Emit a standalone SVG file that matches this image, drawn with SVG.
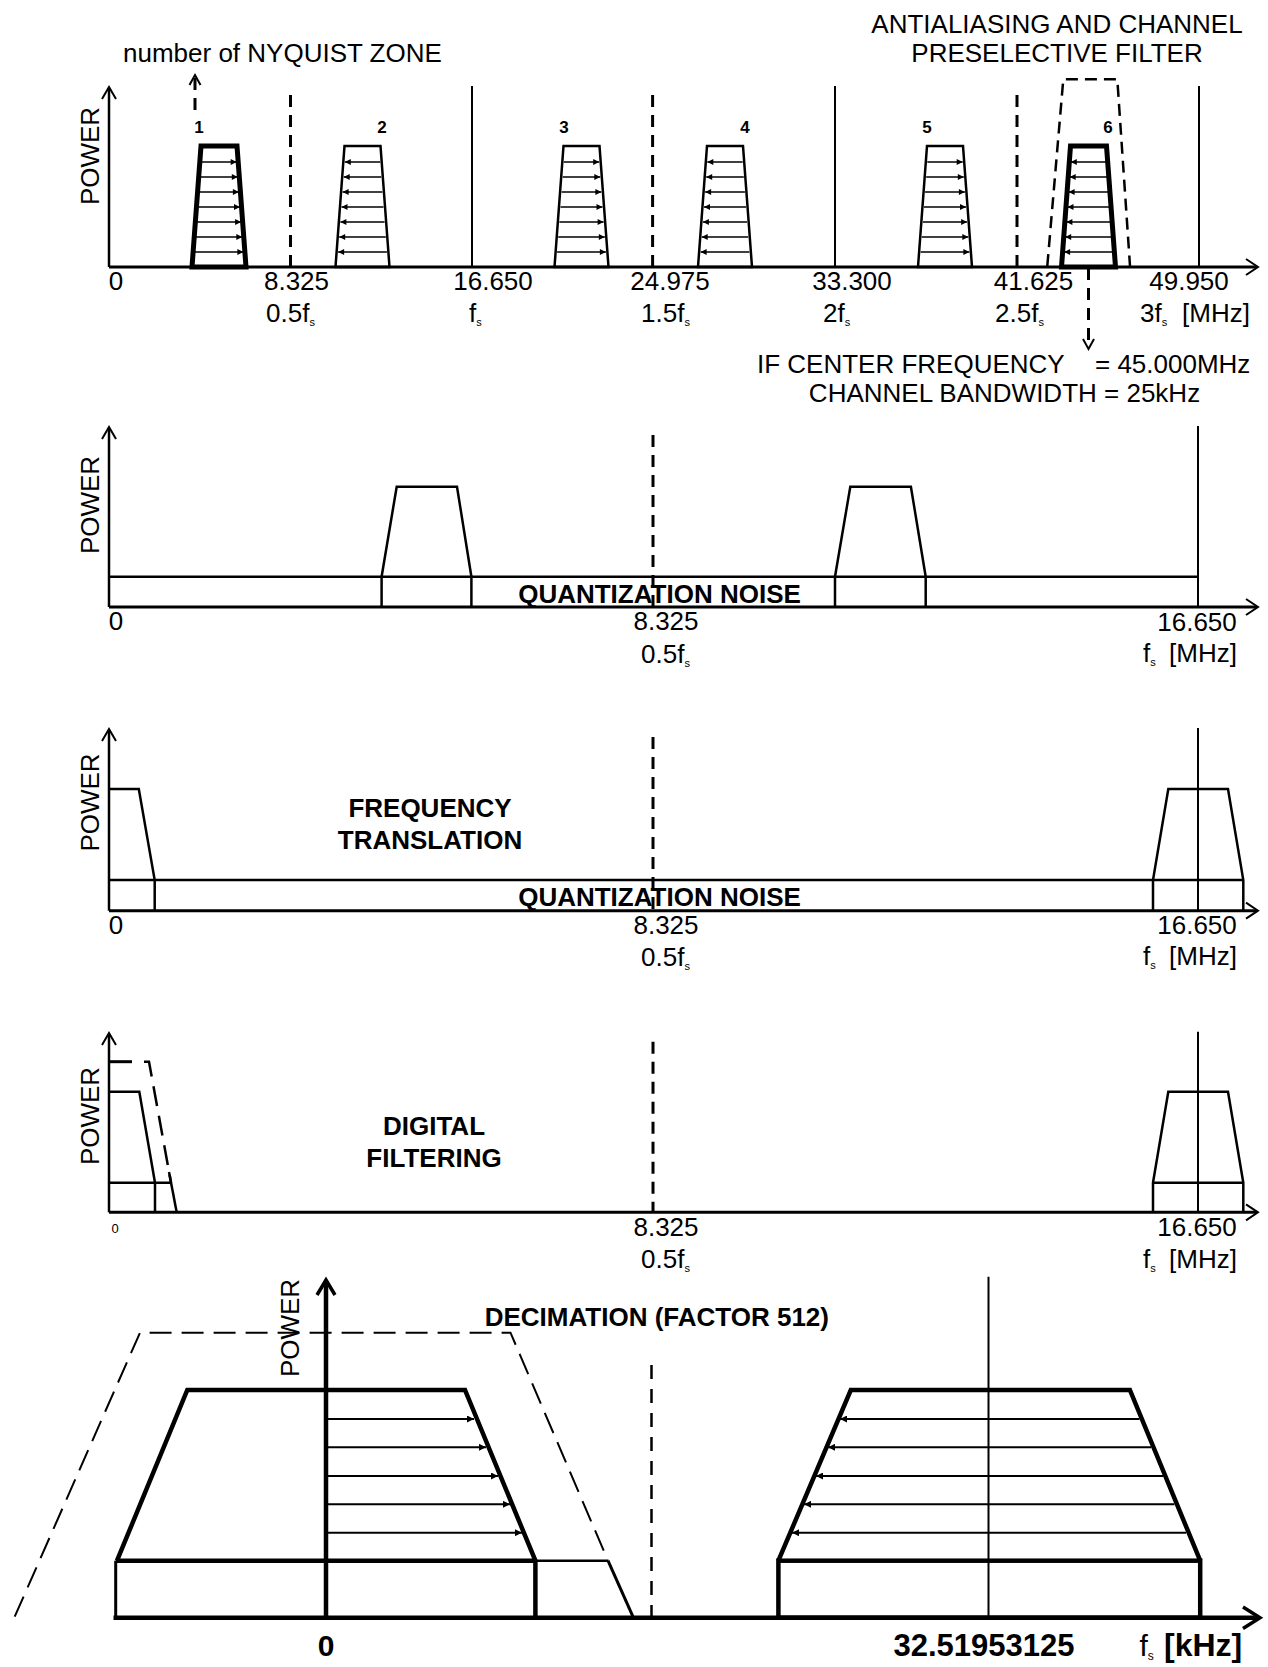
<svg xmlns="http://www.w3.org/2000/svg" xmlns:xlink="http://www.w3.org/1999/xlink" width="1268" height="1667" viewBox="0 0 1268 1667">
<style>
.ln{stroke:#000;fill:none;stroke-width:2.5;stroke-linejoin:miter}
.th{stroke-width:2}
.tk{stroke-width:5}
.x5{stroke-width:4.5}
.ds{stroke-dasharray:12 8;stroke-width:3}
.ds2{stroke-dasharray:22 10;stroke-width:2}
.ar{stroke:#000;stroke-width:1.3;fill:none;marker-end:url(#ah)}
.ar2{stroke:#000;stroke-width:2;fill:none;marker-end:url(#ah2)}
text{font-family:"Liberation Sans",Arial,sans-serif;font-size:26px;fill:#000}
.b{font-weight:bold}
.m{text-anchor:middle}
.sub{font-size:11px}
.zn{font-weight:bold;text-anchor:middle;font-size:17px}
</style>
<defs>
<marker id="ah" viewBox="0 0 10 10" refX="10" refY="5" markerWidth="7" markerHeight="6" markerUnits="userSpaceOnUse" orient="auto"><path d="M0,0 L10,5 L0,10 z" fill="#000"/></marker>
<marker id="ah2" viewBox="0 0 10 10" refX="10" refY="5" markerWidth="8" markerHeight="7" markerUnits="userSpaceOnUse" orient="auto"><path d="M0,0 L10,5 L0,10 z" fill="#000"/></marker>
<g id="arrR">
<line class="ar" x1="-17.7" y1="162" x2="17.7" y2="162"/>
<line class="ar" x1="-18.8" y1="177" x2="18.8" y2="177"/>
<line class="ar" x1="-19.9" y1="192" x2="19.9" y2="192"/>
<line class="ar" x1="-21" y1="207" x2="21" y2="207"/>
<line class="ar" x1="-22.1" y1="222" x2="22.1" y2="222"/>
<line class="ar" x1="-23.3" y1="237" x2="23.3" y2="237"/>
<line class="ar" x1="-24.4" y1="252" x2="24.4" y2="252"/>
</g>
<polygon id="trap" points="-27,267 -18,146 18,146 27,267"/>
</defs>
<rect width="1268" height="1667" fill="#fff"/>

<g id="panel1">
<text transform="translate(99,156) rotate(-90)" class="m">POWER</text>
<text x="123" y="62">number of NYQUIST ZONE</text>
<text x="1057" y="33" class="m">ANTIALIASING AND CHANNEL</text>
<text x="1057" y="62" class="m">PRESELECTIVE FILTER</text>
<line class="ln" x1="109" y1="267" x2="109" y2="88"/>
<polyline class="ln th" points="102,99 109,87 116,99"/>
<line class="ln" x1="109" y1="267" x2="1257" y2="267" style="stroke-width:3"/>
<polyline class="ln th" points="1246,259 1258,267 1246,275"/>
<line class="ln ds" x1="290.5" y1="95" x2="290.5" y2="267"/>
<line class="ln ds" x1="652.6" y1="95" x2="652.6" y2="267"/>
<line class="ln ds" x1="1017" y1="95" x2="1017" y2="267"/>
<line class="ln th" x1="472" y1="86" x2="472" y2="267"/>
<line class="ln th" x1="835" y1="86" x2="835" y2="267"/>
<line class="ln th" x1="1199" y1="86" x2="1199" y2="267"/>
<g id="zone1"><use xlink:href="#trap" class="ln tk" transform="translate(219,0)"/><use xlink:href="#arrR" transform="translate(219,0)"/><text x="199" y="133" class="zn">1</text></g>
<g id="zone2"><use xlink:href="#trap" class="ln" transform="translate(362.5,0)"/><use xlink:href="#arrR" transform="translate(362.5,0) scale(-1,1)"/><text x="382" y="133" class="zn">2</text></g>
<g id="zone3"><use xlink:href="#trap" class="ln" transform="translate(581.5,0)"/><use xlink:href="#arrR" transform="translate(581.5,0)"/><text x="564" y="133" class="zn">3</text></g>
<g id="zone4"><use xlink:href="#trap" class="ln" transform="translate(725,0)"/><use xlink:href="#arrR" transform="translate(725,0) scale(-1,1)"/><text x="745" y="133" class="zn">4</text></g>
<g id="zone5"><use xlink:href="#trap" class="ln" transform="translate(945,0)"/><use xlink:href="#arrR" transform="translate(945,0)"/><text x="927" y="133" class="zn">5</text></g>
<g id="zone6"><use xlink:href="#trap" class="ln tk" transform="translate(1088.5,0)"/><use xlink:href="#arrR" transform="translate(1088.5,0) scale(-1,1)"/><text x="1108" y="133" class="zn">6</text></g>
<polyline class="ln" points="1047.3,266 1063.3,79.3 1117.3,79.3 1130,266" style="stroke-dasharray:12 7;stroke-width:2.5"/>
<line class="ln ds" x1="195" y1="110" x2="195" y2="76"/>
<polyline class="ln th" points="189.5,85 195,75 200.5,85"/>
<line class="ln ds" x1="1088.5" y1="268" x2="1088.5" y2="348"/>
<polyline class="ln th" points="1083,339 1088.5,349 1094,339"/>
<text x="116" y="290" class="m">0</text>
<text x="296.5" y="290" class="m">8.325</text>
<text x="493" y="290" class="m">16.650</text>
<text x="670" y="290" class="m">24.975</text>
<text x="852" y="290" class="m">33.300</text>
<text x="1033.5" y="290" class="m">41.625</text>
<text x="1189" y="290" class="m">49.950</text>
<text x="266" y="322">0.5f<tspan class="sub" dy="4">s</tspan></text>
<text x="469" y="322">f<tspan class="sub" dy="4">s</tspan></text>
<text x="641" y="322">1.5f<tspan class="sub" dy="4">s</tspan></text>
<text x="823" y="322">2f<tspan class="sub" dy="4">s</tspan></text>
<text x="995" y="322">2.5f<tspan class="sub" dy="4">s</tspan></text>
<text x="1140" y="322">3f<tspan class="sub" dy="4">s</tspan><tspan x="1182" dy="-4">[MHz]</tspan></text>
<text x="757" y="373">IF CENTER FREQUENCY<tspan x="1095">= 45.000MHz</tspan></text>
<text x="1004.5" y="401.7" class="m">CHANNEL BANDWIDTH = 25kHz</text>
</g>

<g id="panel2">
<text transform="translate(99,505) rotate(-90)" class="m">POWER</text>
<line class="ln" x1="109" y1="607" x2="109" y2="428"/>
<polyline class="ln th" points="102,439 109,427 116,439"/>
<line class="ln" x1="109" y1="607" x2="1257" y2="607" style="stroke-width:3"/>
<polyline class="ln th" points="1246,599 1258,607 1246,615"/>
<line class="ln" x1="109" y1="576.7" x2="1198" y2="576.7"/>
<polyline class="ln" points="381.6,607 381.6,576.7 396.7,486.7 457,486.7 471.4,576.7 471.4,607"/>
<polyline class="ln" points="835,607 835,576.7 850.3,486.7 910.9,486.7 925.7,576.7 925.7,607"/>
<line class="ln th" x1="1198" y1="426" x2="1198" y2="607"/>
<line class="ln ds" x1="653" y1="435" x2="653" y2="607"/>
<text x="659.5" y="603" class="b m">QUANTIZATION NOISE</text>
<text x="116" y="630" class="m">0</text>
<text x="666" y="630" class="m">8.325</text>
<text x="641" y="663">0.5f<tspan class="sub" dy="4">s</tspan></text>
<text x="1197" y="631" class="m">16.650</text>
<text x="1143" y="662">f<tspan class="sub" dy="4">s</tspan><tspan x="1169" dy="-4">[MHz]</tspan></text>
</g>

<g id="panel3">
<text transform="translate(99,802.5) rotate(-90)" class="m">POWER</text>
<line class="ln" x1="109" y1="910.7" x2="109" y2="730"/>
<polyline class="ln th" points="102,741 109,729 116,741"/>
<line class="ln" x1="109" y1="910.7" x2="1257" y2="910.7" style="stroke-width:3"/>
<polyline class="ln th" points="1246,902.7 1258,910.7 1246,918.7"/>
<line class="ln" x1="109" y1="880" x2="1243.3" y2="880"/>
<polyline class="ln" points="109,789 138.8,789 154.7,880 154.7,910.7"/>
<polyline class="ln" points="1153,910.7 1153,880 1168.3,789 1228,789 1243.3,880 1243.3,910.7"/>
<line class="ln th" x1="1198" y1="728" x2="1198" y2="910.7"/>
<line class="ln ds" x1="653" y1="737" x2="653" y2="910.7"/>
<text x="430" y="816.7" class="b m">FREQUENCY</text>
<text x="430" y="849" class="b m">TRANSLATION</text>
<text x="659.5" y="906" class="b m">QUANTIZATION NOISE</text>
<text x="116" y="933.7" class="m">0</text>
<text x="666" y="933.7" class="m">8.325</text>
<text x="641" y="966">0.5f<tspan class="sub" dy="4">s</tspan></text>
<text x="1197" y="933.7" class="m">16.650</text>
<text x="1143" y="965">f<tspan class="sub" dy="4">s</tspan><tspan x="1169" dy="-4">[MHz]</tspan></text>
</g>

<g id="panel4">
<text transform="translate(99,1116) rotate(-90)" class="m">POWER</text>
<line class="ln" x1="109" y1="1212.3" x2="109" y2="1034"/>
<polyline class="ln th" points="102,1045 109,1033 116,1045"/>
<line class="ln" x1="109" y1="1212.3" x2="1257" y2="1212.3" style="stroke-width:3"/>
<polyline class="ln th" points="1246,1204.3 1258,1212.3 1246,1220.3"/>
<polyline class="ln" points="109,1091.7 139.3,1091.7 155,1182.7 155,1212.3"/>
<line class="ln" x1="109" y1="1182.7" x2="171" y2="1182.7"/>
<line class="ln" x1="109" y1="1061.7" x2="132" y2="1061.7" style="stroke-width:3"/>
<polyline class="ln" points="144,1061.7 149,1061.7 171,1182.7" style="stroke-dasharray:20 10;stroke-width:2.5"/>
<line class="ln" x1="169" y1="1172" x2="176.7" y2="1212.3"/>
<polyline class="ln" points="1153,1212.3 1153,1182.7 1168.3,1091.7 1228,1091.7 1243.3,1182.7 1243.3,1212.3"/>
<line class="ln" x1="1153" y1="1182.7" x2="1243.3" y2="1182.7"/>
<line class="ln th" x1="1198" y1="1031.7" x2="1198" y2="1212.3"/>
<line class="ln ds" x1="653" y1="1041.7" x2="653" y2="1212.3"/>
<text x="434" y="1135" class="b m">DIGITAL</text>
<text x="434" y="1166.7" class="b m">FILTERING</text>
<text x="115" y="1233" class="m" style="font-size:13px">0</text>
<text x="666" y="1236" class="m">8.325</text>
<text x="641" y="1268">0.5f<tspan class="sub" dy="4">s</tspan></text>
<text x="1197" y="1236" class="m">16.650</text>
<text x="1143" y="1268">f<tspan class="sub" dy="4">s</tspan><tspan x="1169" dy="-4">[MHz]</tspan></text>
</g>

<g id="panel5">
<text transform="translate(299,1328) rotate(-90)" class="m">POWER</text>
<text x="484.7" y="1326" class="b">DECIMATION (FACTOR 512)</text>
<polyline class="ln ds2" points="14.7,1616.7 140,1332.7 510.5,1332.7 608,1560.7"/>
<line class="ln" x1="608" y1="1560.7" x2="633.4" y2="1617.7" style="stroke-width:3"/>
<line class="ln" x1="535.4" y1="1560.7" x2="608" y2="1560.7"/>
<polyline class="ln x5" points="117,1560.7 187.3,1390 465,1390 535.4,1560.7"/>
<line class="ln x5" x1="115.7" y1="1560.7" x2="535.4" y2="1560.7"/>
<line class="ln" x1="115.7" y1="1560.7" x2="115.7" y2="1617.7" style="stroke-width:3"/>
<line class="ln x5" x1="535.4" y1="1560.7" x2="535.4" y2="1617.7"/>
<line class="ar2" x1="326" y1="1419" x2="474" y2="1419"/>
<line class="ar2" x1="326" y1="1447.3" x2="486" y2="1447.3"/>
<line class="ar2" x1="326" y1="1476" x2="498" y2="1476"/>
<line class="ar2" x1="326" y1="1504.3" x2="510" y2="1504.3"/>
<line class="ar2" x1="326" y1="1532.7" x2="522" y2="1532.7"/>
<line class="ln x5" x1="326" y1="1617.7" x2="326" y2="1281"/>
<polyline class="ln" points="317,1295 326,1280 335,1295" style="stroke-width:3.5"/>
<line class="ln" x1="651.5" y1="1365" x2="651.5" y2="1617.7" style="stroke-dasharray:14 10;stroke-width:2.5"/>
<polyline class="ln x5" points="778.4,1560.7 850.8,1390 1129.9,1390 1200.2,1560.7"/>
<rect class="ln x5" x="778.4" y="1560.7" width="421.8" height="57"/>
<line class="ln th" x1="988.5" y1="1276.7" x2="988.5" y2="1617.7"/>
<line class="ar2" x1="1139.5" y1="1419" x2="840" y2="1419"/>
<line class="ar2" x1="1151" y1="1447.3" x2="828" y2="1447.3"/>
<line class="ar2" x1="1163" y1="1476" x2="816" y2="1476"/>
<line class="ar2" x1="1174.5" y1="1504.3" x2="804" y2="1504.3"/>
<line class="ar2" x1="1186" y1="1532.7" x2="792" y2="1532.7"/>
<line class="ln x5" x1="113.5" y1="1617.7" x2="1258" y2="1617.7"/>
<polyline class="ln" points="1243,1607 1260,1617.7 1243,1628.4" style="stroke-width:3.5"/>
<text x="326" y="1656" class="b m" style="font-size:30px">0</text>
<text x="984" y="1656" class="b m" style="font-size:31px">32.51953125</text>
<text x="1139.5" y="1656" style="font-size:30px">f<tspan style="font-size:12px" dy="4">s</tspan></text>
<text x="1164" y="1656" class="b" style="font-size:32px">[kHz]</text>
</g>
</svg>
